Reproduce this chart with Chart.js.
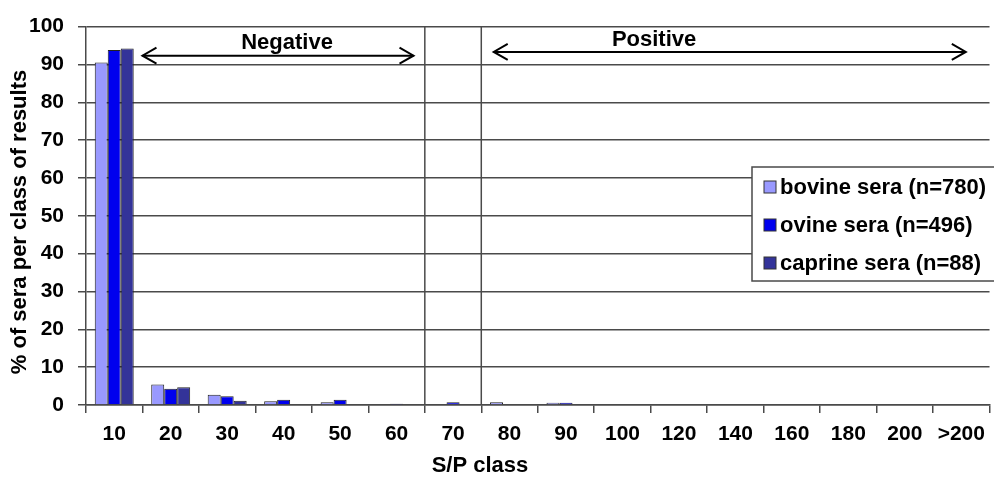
<!DOCTYPE html>
<html><head><meta charset="utf-8">
<script src="https://cdn.jsdelivr.net/npm/chart.js@4.4.0/dist/chart.umd.min.js"></script>
<style>html,body{margin:0;padding:0;background:#fff}</style>
</head><body>
<canvas id="c" width="994" height="478"></canvas>
<script>
const categories = ['10','20','30','40','50','60','70','80','90','100','120','140','160','180','200','>200'];
const bovine  = [90.5, 5.4, 2.7, 1.0, 0.7, 0,   0,   0.7, 0.6, 0, 0, 0, 0, 0, 0, 0];
const ovine   = [93.8, 4.3, 2.3, 1.4, 1.4, 0.3, 0.7, 0,   0.6, 0, 0, 0, 0, 0, 0, 0];
const caprine = [94.2, 4.7, 1.1, 0,   0,   0,   0,   0,   0,   0, 0, 0, 0, 0, 0, 0];
const seriesNames = ['bovine sera (n=780)', 'ovine sera (n=496)', 'caprine sera (n=88)'];
const seriesColors = ['#9999ff', '#0000ee', '#333399'];
const yTicks = [0,10,20,30,40,50,60,70,80,90,100];
const xTitle = 'S/P class';
const yTitle = '% of sera per class of results';
const zoneNames = ['Negative', 'Positive'];

const FONT = '"Liberation Sans", Arial, sans-serif';

const overlay = {
  id: 'overlay',
  beforeDatasetsDraw(chart) {
    const {ctx, chartArea, scales:{x}} = chart;
    ctx.save();
    ctx.strokeStyle = '#4a4a4a';
    ctx.lineWidth = 1.5;
    [5.5, 6.5].forEach(v => {
      const px = x.getPixelForValue(v);
      ctx.beginPath(); ctx.moveTo(px, chartArea.top); ctx.lineTo(px, chartArea.bottom); ctx.stroke();
    });
    ctx.restore();
  },
  afterDatasetsDraw(chart) {
    const {ctx, scales:{x, y}} = chart;
    ctx.save();
    const arrow = (x1, x2, yy) => {
      ctx.strokeStyle = '#000'; ctx.lineWidth = 2;
      ctx.beginPath(); ctx.moveTo(x1, yy); ctx.lineTo(x2, yy); ctx.stroke();
      ctx.beginPath(); ctx.moveTo(x1 + 14, yy - 8); ctx.lineTo(x1, yy); ctx.lineTo(x1 + 14, yy + 8); ctx.stroke();
      ctx.beginPath(); ctx.moveTo(x2 - 14, yy - 8); ctx.lineTo(x2, yy); ctx.lineTo(x2 - 14, yy + 8); ctx.stroke();
    };
    arrow(x.getPixelForValue(0.5), x.getPixelForValue(5.3), y.getPixelForValue(92.3));
    arrow(x.getPixelForValue(6.72), x.getPixelForValue(15.08), y.getPixelForValue(93.3));
    ctx.fillStyle = '#000';
    ctx.font = 'bold 22px ' + FONT;
    ctx.textAlign = 'center'; ctx.textBaseline = 'middle';
    ctx.fillText(zoneNames[0], x.getPixelForValue(3.06), y.getPixelForValue(95.8));
    ctx.fillText(zoneNames[1], x.getPixelForValue(9.56), y.getPixelForValue(96.6));
    ctx.restore();
  },
  afterDraw(chart) {
    const {ctx} = chart;
    ctx.save();
    // legend box
    ctx.fillStyle = '#fff';
    ctx.strokeStyle = '#4a4a4a';
    ctx.lineWidth = 1.5;
    ctx.fillRect(752, 167, 250, 114);
    ctx.strokeRect(752, 167, 250, 114);
    ctx.font = 'bold 22px ' + FONT;
    ctx.textAlign = 'left'; ctx.textBaseline = 'middle';
    chart.data.datasets.forEach((ds, i) => {
      const cy = 187 + i * 38;
      ctx.fillStyle = ds.backgroundColor;
      ctx.fillRect(764, cy - 6, 12, 12);
      ctx.strokeStyle = '#333'; ctx.lineWidth = 1;
      ctx.strokeRect(764, cy - 6, 12, 12);
      ctx.fillStyle = '#000';
      ctx.fillText(ds.label, 780, cy + 1);
    });
    // axis titles
    ctx.fillStyle = '#000';
    ctx.font = 'bold 22px ' + FONT;
    ctx.textAlign = 'center';
    ctx.fillText(xTitle, 480, 466);
    ctx.translate(20, 222);
    ctx.rotate(-Math.PI / 2);
    ctx.fillText(yTitle, 0, 0);
    ctx.restore();
  }
};

new Chart(document.getElementById('c'), {
  type: 'bar',
  data: {
    labels: categories,
    datasets: [bovine, ovine, caprine].map((d, i) => ({
      label: seriesNames[i],
      data: d,
      backgroundColor: seriesColors[i],
      borderColor: '#222',
      borderWidth: 1,
      categoryPercentage: 0.69,
      barPercentage: 1.0
    }))
  },
  options: {
    responsive: false,
    animation: false,
    layout: { padding: { top: 22, right: 2, left: 0, bottom: 0 } },
    plugins: { legend: { display: false }, tooltip: { enabled: false } },
    scales: {
      x: {
        afterFit(s) { s.height = 73; },
        grid: { display: true, drawOnChartArea: false, drawTicks: true, tickLength: 8, offset: true, color: '#4a4a4a', lineWidth: 1.5 },
        border: { display: true, color: '#4a4a4a', width: 1.5 },
        ticks: { color: '#000', font: { family: FONT, weight: 'bold', size: 21 }, padding: 9, maxRotation: 0, autoSkip: false }
      },
      y: {
        min: 0, max: 100,
        afterFit(s) { s.width = 86; },
        afterBuildTicks(s) { s.ticks = yTicks.map(v => ({value: v})); },
        grid: { color: '#4a4a4a', lineWidth: 1.5, tickLength: 8 },
        border: { display: true, color: '#4a4a4a', width: 1.5 },
        ticks: { color: '#000', font: { family: FONT, weight: 'bold', size: 21 }, padding: 14 }
      }
    }
  },
  plugins: [overlay]
});
</script>
</body></html>
